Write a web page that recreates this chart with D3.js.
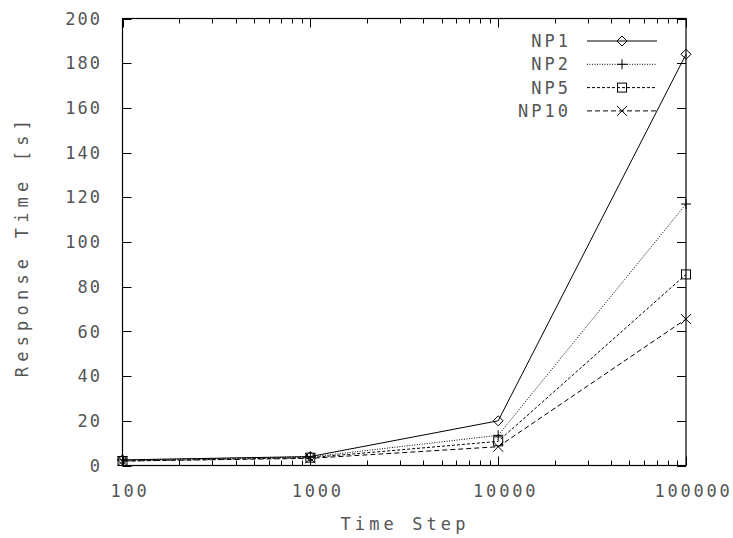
<!DOCTYPE html>
<html><head><meta charset="utf-8">
<script src="https://cdn.jsdelivr.net/npm/d3@7"></script>
<style>body{margin:0;background:#fff;overflow:hidden}</style>
</head><body>
<svg id="c" width="733" height="538"></svg>
<script>
const timeSteps = [100, 1000, 10000, 100000];
const np1 = [2.5, 4.0, 20.0, 184.0];
const np2 = [2.5, 3.8, 13.5, 117.0];
const np5 = [2.0, 3.5, 10.8, 85.5];
const np10 = [2.0, 3.2, 8.4, 65.5];
const seriesNames = ["NP1", "NP2", "NP5", "NP10"];
const yTicks = [0, 20, 40, 60, 80, 100, 120, 140, 160, 180, 200];
const xTicks = [100, 1000, 10000, 100000];

const svg = d3.select("#c");
const L = 122.5, R = 686, T = 18.5, B = 465.5;
const x = d3.scaleLog().domain([100, 100000]).range([L, R]);
const y = d3.scaleLinear().domain([0, 200]).range([B, T]);
const font = "'DejaVu Sans Mono', monospace";
const txtCol = "#555";
const fs = 17;

const series = [
  {name: seriesNames[0], vals: np1, dash: null, sym: "diamond"},
  {name: seriesNames[1], vals: np2, dash: "1,1.5", sym: "plus"},
  {name: seriesNames[2], vals: np5, dash: "3,2", sym: "square"},
  {name: seriesNames[3], vals: np10, dash: "5,3", sym: "cross"}
];

function marker(g, sym, cx, cy) {
  const s = 5;
  if (sym === "diamond") {
    g.append("path").attr("d", `M${cx},${cy-s}L${cx+s},${cy}L${cx},${cy+s}L${cx-s},${cy}Z`)
      .attr("fill", "none").attr("stroke", "#000").attr("stroke-width", 1);
  } else if (sym === "plus") {
    g.append("path").attr("d", `M${cx-s},${cy}H${cx+s}M${cx},${cy-s}V${cy+s}`)
      .attr("stroke", "#000").attr("stroke-width", 1);
  } else if (sym === "square") {
    g.append("rect").attr("x", cx-s+0.5).attr("y", cy-s+0.5).attr("width", 2*s-1).attr("height", 2*s-1)
      .attr("fill", "none").attr("stroke", "#000").attr("stroke-width", 1);
  } else {
    g.append("path").attr("d", `M${cx-s},${cy-s}L${cx+s},${cy+s}M${cx-s},${cy+s}L${cx+s},${cy-s}`)
      .attr("stroke", "#000").attr("stroke-width", 1);
  }
}

// ticks
const tg = svg.append("g").attr("stroke", "#000").attr("stroke-width", 1);
yTicks.forEach(v => {
  const yy = Math.round(y(v)) + 0.5;
  tg.append("line").attr("x1", L).attr("x2", L + 9).attr("y1", yy).attr("y2", yy);
  tg.append("line").attr("x1", R).attr("x2", R - 9).attr("y1", yy).attr("y2", yy);
});
const minor = [];
for (let d = 100; d < 100000; d *= 10) for (let k = 2; k <= 9; k++) minor.push(d * k);
minor.forEach(v => {
  const xx = Math.round(x(v)) + 0.5;
  tg.append("line").attr("x1", xx).attr("x2", xx).attr("y1", B).attr("y2", B - 5);
  tg.append("line").attr("x1", xx).attr("x2", xx).attr("y1", T).attr("y2", T + 5);
});
xTicks.forEach(v => {
  const xx = Math.round(x(v)) + 0.5;
  tg.append("line").attr("x1", xx).attr("x2", xx).attr("y1", B).attr("y2", B - 9);
  tg.append("line").attr("x1", xx).attr("x2", xx).attr("y1", T).attr("y2", T + 9);
});

// frame
svg.append("rect").attr("x", L).attr("y", T).attr("width", R - L).attr("height", B - T)
  .attr("fill", "none").attr("stroke", "#000").attr("stroke-width", 1.2);

// tick labels
svg.append("g").selectAll("text").data(yTicks).join("text")
  .attr("x", 102).attr("y", d => y(d)).attr("dy", "0.36em")
  .attr("text-anchor", "end").attr("font-family", font).attr("font-size", fs)
  .attr("letter-spacing", 2).attr("fill", txtCol).text(d => d);
svg.append("g").selectAll("text").data(xTicks).join("text")
  .attr("x", d => x(d) + 7.5).attr("y", 497)
  .attr("text-anchor", "middle").attr("font-family", font).attr("font-size", fs)
  .attr("letter-spacing", 2.8).attr("fill", txtCol).text(d => d);

// axis titles
svg.append("text").attr("x", 405).attr("y", 530).attr("text-anchor", "middle")
  .attr("font-family", font).attr("font-size", fs).attr("letter-spacing", 4.1)
  .attr("fill", txtCol).text("Time Step");
svg.append("text").attr("transform", "translate(28,246) rotate(-90)").attr("text-anchor", "middle")
  .attr("font-family", font).attr("font-size", fs).attr("letter-spacing", 5.2)
  .attr("fill", txtCol).text("Response Time [s]");

// lines
const line = d3.line().x((d, i) => x(timeSteps[i])).y(d => y(d));
series.forEach(s => {
  svg.append("path").datum(s.vals).attr("d", line).attr("fill", "none")
    .attr("stroke", "#000").attr("stroke-width", 1)
    .attr("stroke-dasharray", s.dash);
  const g = svg.append("g");
  s.vals.forEach((v, i) => marker(g, s.sym, x(timeSteps[i]), y(v)));
});

// legend
series.forEach((s, i) => {
  const ly = 41 + i * 23.3;
  svg.append("text").attr("x", 571).attr("y", ly).attr("dy", "0.36em").attr("text-anchor", "end")
    .attr("font-family", font).attr("font-size", fs).attr("letter-spacing", 3)
    .attr("fill", txtCol).text(s.name);
  svg.append("line").attr("x1", 587).attr("x2", 657).attr("y1", ly).attr("y2", ly)
    .attr("stroke", "#000").attr("stroke-width", 1).attr("stroke-dasharray", s.dash);
  marker(svg.append("g"), s.sym, 622, ly);
});
</script>
</body></html>
